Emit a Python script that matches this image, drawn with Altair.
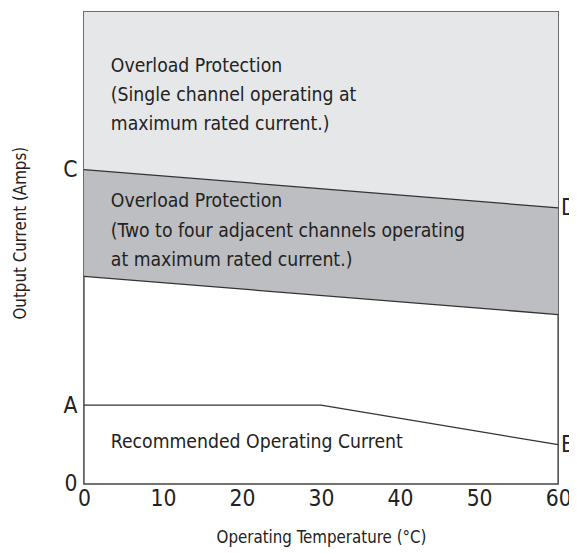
import altair as alt
import pandas as pd

FONT = "Liberation Sans Narrow, Arial Narrow, DejaVu Sans Condensed, sans-serif"

# ---- data ----
temp = [0, 60]
single_limit = [66.6, 58.5]      # C -> D
multi_limit = [44.0, 35.9]       # lower edge of dark band
top_value = [100, 100]
rec_temp = [0, 30, 60]
rec_current = [16.7, 16.7, 8.35]  # A -> B
y_tick_values = [0, 16.7, 66.6]
x_tick_values = [0, 10, 20, 30, 40, 50, 60]

text_x = [3.4, 3.4, 3.4, 3.4, 3.4, 3.4, 3.4]
text_y = [88.5, 82.4, 76.2, 59.9, 53.6, 47.5, 9.0]
text_lines = [
    "Overload Protection",
    "(Single channel operating at",
    "maximum rated current.)",
    "Overload Protection",
    "(Two to four adjacent channels operating",
    "at maximum rated current.)",
    "Recommended Operating Current",
]
edge_x = [60, 60]
edge_y = [58.5, 8.35]
edge_text = ["D", "B"]

band = pd.DataFrame({"temp": temp, "single": single_limit, "multi": multi_limit, "top": top_value})
rec = pd.DataFrame({"temp": rec_temp, "current": rec_current})
notes = pd.DataFrame({"temp": text_x, "current": text_y, "label": text_lines})
edges = pd.DataFrame({"temp": edge_x, "current": edge_y, "label": edge_text})

xs = alt.Scale(domain=[0, 60], nice=False, zero=False)
ys = alt.Scale(domain=[0, 100], nice=False)

x_axis = alt.Axis(values=x_tick_values, ticks=False, domain=False, grid=False, labelFlush=False,
                  labelFont=FONT, labelFontSize=23, labelColor="#222", labelPadding=4,
                  title="Operating Temperature (°C)", titleFont=FONT, titleFontSize=17,
                  titleFontWeight="normal", titleColor="#222", titleBaseline="middle", titleY=54)
y_axis = alt.Axis(values=y_tick_values, ticks=False, domain=False, grid=False, labelFlush=False,
                  labelExpr="datum.value == 0 ? '0' : (datum.value < 30 ? 'A' : 'C')",
                  labelFont=FONT, labelFontSize=23, labelColor="#222", labelPadding=7,
                  title="Output Current (Amps)", titleFont=FONT, titleFontSize=17,
                  titleFontWeight="normal", titleColor="#222", titleAngle=-90,
                  titleBaseline="middle", titleX=-64, titleY=224)

light = alt.Chart(band).mark_area(color="#e6e7e9", opacity=1).encode(
    x=alt.X("temp:Q", scale=xs, axis=x_axis),
    y=alt.Y("top:Q", scale=ys, axis=y_axis),
    y2="single:Q",
)
dark = alt.Chart(band).mark_area(color="#bdbec1", opacity=1).encode(
    x=alt.X("temp:Q", scale=xs),
    y=alt.Y("single:Q", scale=ys),
    y2="multi:Q",
)
line_single = alt.Chart(band).mark_line(color="#333", strokeWidth=1.3).encode(
    x=alt.X("temp:Q", scale=xs), y=alt.Y("single:Q", scale=ys))
line_multi = alt.Chart(band).mark_line(color="#333", strokeWidth=1.3).encode(
    x=alt.X("temp:Q", scale=xs), y=alt.Y("multi:Q", scale=ys))
line_rec = alt.Chart(rec).mark_line(color="#333", strokeWidth=1.3).encode(
    x=alt.X("temp:Q", scale=xs), y=alt.Y("current:Q", scale=ys))

note_text = alt.Chart(notes).mark_text(align="left", baseline="middle", font=FONT,
                                       fontSize=19.5, color="#222").encode(
    x=alt.X("temp:Q", scale=xs), y=alt.Y("current:Q", scale=ys), text="label:N")
edge_lbl = alt.Chart(edges).mark_text(align="left", baseline="middle", dx=3, font=FONT,
                                      fontSize=23, color="#222").encode(
    x=alt.X("temp:Q", scale=xs), y=alt.Y("current:Q", scale=ys), text="label:N")

chart = alt.layer(light, dark, line_single, line_multi, line_rec, note_text, edge_lbl).properties(
    width=481, height=479,
    autosize=alt.AutoSizeParams(type="none"),
    padding={"left": 77, "top": 0, "right": 11, "bottom": 66},
    background="white",
).configure_view(stroke="#444", strokeWidth=1.5)

chart.save("out.html", embed_options={"renderer": "svg", "actions": False})
